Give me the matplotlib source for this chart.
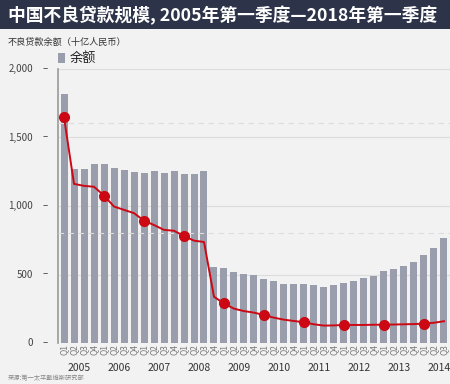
#!/usr/bin/env python3
# coding: UTF-8

import matplotlib
matplotlib.use("Agg")
import matplotlib.pyplot as plt
from matplotlib.patches import Rectangle
import numpy as np

plt.rcParams['font.family'] = ['Noto Sans CJK SC', 'DejaVu Sans']

# Data, 2005 Q1 .. 2014 Q3
years = [str(y) for y in range(2005, 2015)]
quarters = ["Q1", "Q2", "Q3", "Q4"]

# NPL balance, billion RMB
balance = [1815, 1268, 1268, 1304, 1304, 1275, 1265, 1246, 1239, 1257,
           1243, 1258, 1236, 1236, 1255, 557, 547, 516, 502, 494,
           467, 453, 433, 433, 431, 421, 407, 426, 436, 455,
           477, 491, 526, 538, 562, 590, 642, 691, 764]

# NPL ratio (%), drawn on a hidden second axis
ratio = [10.26, 7.23, 7.14, 7.10, 6.70, 6.20, 6.05, 5.90, 5.56, 5.36,
         5.14, 5.10, 4.86, 4.65, 4.59, 2.10, 1.80, 1.56, 1.45, 1.38,
         1.27, 1.15, 1.06, 1.00, 0.94, 0.85, 0.79, 0.80, 0.82, 0.82,
         0.82, 0.83, 0.83, 0.84, 0.85, 0.86, 0.88, 0.92, 0.99]

yticks = [0, 500, 1000, 1500, 2000]

BG = '#f2f2f2'
BAR = '#9a9dab'
RED = '#cc0814'
NAVY = '#2d3449'

fig = plt.figure(figsize=(4.5, 3.84), dpi=100)
fig.patch.set_facecolor(BG)

# title banner
fig.patches.append(Rectangle((0, 1 - 29 / 384), 1, 29 / 384, transform=fig.transFigure,
                             facecolor=NAVY, edgecolor='none', zorder=0))
fig.text(8 / 450, 1 - 15 / 384, "中国不良贷款规模, 2005年第一季度—2018年第一季度",
         color='white', fontsize=12.8, fontweight='bold', va='center', ha='left')

fig.text(8 / 450, 1 - 42 / 384, "不良贷款余额（十亿人民币）", fontsize=6.6,
         color='#333333', va='center', ha='left')

# legend
fig.patches.append(Rectangle((58 / 450, 1 - 63 / 384), 7 / 450, 10 / 384,
                             transform=fig.transFigure, facecolor=BAR, edgecolor='none'))
fig.text(70 / 450, 1 - 58 / 384, "余额", fontsize=9.5, color='#222222',
         va='center', ha='left')

ax = fig.add_axes([58 / 450, 41 / 384, 1 - 58 / 450, 274 / 384])
ax.set_facecolor(BG)
n = len(balance)
x = np.arange(n)

ax.bar(x, balance, width=0.7, color=BAR, zorder=2)
ax.set_xlim(-0.6, 38.6)
ax.set_ylim(0, 2000)

for v in yticks[1:]:
    ax.axhline(v, color='#dcdcdc', lw=0.8, zorder=1)

for s in ['top', 'right', 'bottom']:
    ax.spines[s].set_visible(False)
ax.spines['left'].set_color('#9a9a9a')
ax.spines['left'].set_linewidth(1.2)

ax.set_yticks(yticks)
ax.set_yticklabels([])
ax.tick_params(axis='y', length=0)
for v in yticks:
    label = "{:,}".format(v)
    ax.annotate(label, xy=(0, v), xycoords=ax.get_yaxis_transform(),
                xytext=(-18, 0), textcoords='offset points', ha='right',
                va='center', fontsize=7, color='#444444')
    ax.annotate("–", xy=(0, v), xycoords=ax.get_yaxis_transform(),
                xytext=(-9, 0), textcoords='offset points', ha='center',
                va='center', fontsize=7, color='#444444')

# quarter labels
ax.set_xticks(x)
ax.set_xticklabels([quarters[i % 4] for i in x], rotation=90, fontsize=6,
                   color='#777777')
ax.tick_params(axis='x', length=0, pad=1)

# year labels
for k, yr in enumerate(years):
    ax.text(4 * k + 1.5, -25 / 274, yr, transform=ax.get_xaxis_transform(),
            ha='center', va='center', fontsize=7.5, color='#333333')

# ratio line on hidden axis
ax2 = ax.twinx()
ax2.set_ylim(0, 12.45)
ax2.set_xlim(ax.get_xlim())
for v in [5, 10]:
    ax2.axhline(v, color='#dddddd', lw=0.8, ls=(0, (5, 4)), zorder=0)
ax2.plot(x, ratio, color=RED, lw=1.4, zorder=3)
ax2.plot(x[::4], np.array(ratio)[::4], 'o', color=RED, markersize=7, zorder=4)
ax2.set_yticks([])
for s in ax2.spines.values():
    s.set_visible(False)
ax.set_zorder(1)
ax2.set_zorder(2)
ax2.patch.set_visible(False)

fig.text(8 / 450, 1 - 378 / 384, "来源:第一太平戴维斯研究部", fontsize=4.5,
         color='#888888', va='center', ha='left')

plt.savefig("out.png", dpi=100, facecolor=fig.get_facecolor())
